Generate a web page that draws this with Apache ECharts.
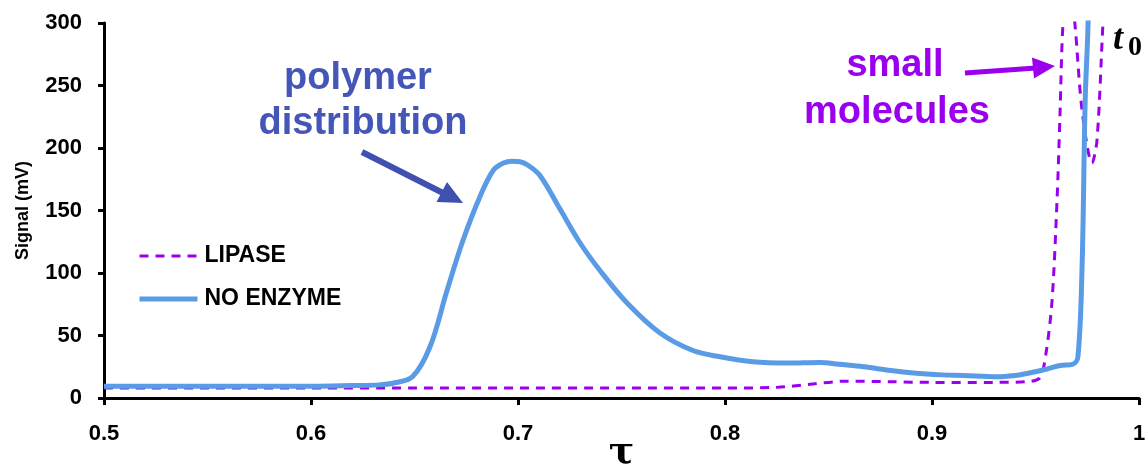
<!DOCTYPE html>
<html>
<head>
<meta charset="utf-8">
<script src="https://cdn.jsdelivr.net/npm/echarts@6/dist/echarts.min.js"></script>
<style>
html,body{margin:0;padding:0;background:#fff;}
#chart{width:1148px;height:465px;}
</style>
</head>
<body>
<div id="chart"></div>
<script>
// ---- data ----
const xTicks = [0.5, 0.6, 0.7, 0.8, 0.9, 1.0];
const yTicks = [0, 50, 100, 150, 200, 250, 300];

const noEnzymeTau = [0.50,0.52,0.55,0.58,0.60,0.62,0.633,0.640,0.649,0.6575,0.6657,0.6734,0.6816,0.688,0.693,0.697,0.701,0.705,0.7106,0.720,0.730,0.7396,0.7527,0.7686,0.7845,0.7976,0.8135,0.830,0.846,0.855,0.867,0.880,0.891,0.905,0.915,0.931,0.940,0.947,0.955,0.962,0.968,0.9705,0.9725,0.974,0.9754,0.977,0.980];
const noEnzymeSignal = [9.5,9.5,9.5,9.5,9.5,10,10.5,12,17,41,86,126,161,182,188,189.5,189,186,178,152,124,102,76,52,38,33,29,28,28.5,27,25,22,20,18.5,18,17,18,20,23,26,27,33,105,238,300,450,600];

const lipaseTau = [0.50,0.55,0.60,0.65,0.70,0.75,0.80,0.825,0.841,0.859,0.880,0.900,0.930,0.945,0.952,0.955,0.958,0.9604,0.9618,0.9633,0.966,0.969,0.9725,0.9773,0.9797,0.9826,0.986];
const lipaseSignal = [8,8,8,8,8,8,8,8.5,11,13.5,13,12.5,12.5,13,16,35,78,158,225,300,340,300,230,188,206,300,400];

const seriesNames = ['LIPASE', 'NO ENZYME'];

const toPairs = (xs, ys) => xs.map((x, i) => [x, ys[i]]);

const chart = echarts.init(document.getElementById('chart'));
const BLUE = '#5a9be6';
const PURPLE = '#9a00ee';
const FONT = "'Liberation Sans', Arial, sans-serif";

chart.setOption({
  animation: false,
  backgroundColor: '#fff',
  grid: { left: 104, right: 9, top: 23, bottom: 67, outerBoundsMode: 'none', containLabel: false },
  legend: {
    data: seriesNames,
    orient: 'vertical',
    left: 132,
    top: 239,
    itemWidth: 58,
    itemHeight: 14,
    itemGap: 19,
    itemStyle: { opacity: 0 },
    lineStyle: { width: 'inherit' },
    textStyle: { fontFamily: FONT, fontWeight: 'bold', fontSize: 23, color: '#000', lineHeight: 24, padding: [0,0,0,2] }
  },
  xAxis: {
    type: 'value',
    min: xTicks[0],
    max: xTicks[xTicks.length - 1],
    interval: 0.1,
    name: 'τ',
    nameLocation: 'middle',
    nameGap: 36,
    nameMoveOverlap: false,
    nameTextStyle: { fontFamily: "'DejaVu Serif', serif", fontWeight: 'bold', fontSize: 38, color: '#000' },
    axisLine: { lineStyle: { color: '#000', width: 3 } },
    axisTick: { inside: false, length: 7, lineStyle: { color: '#000', width: 3 } },
    axisLabel: { margin: 25, fontFamily: FONT, fontWeight: 'bold', fontSize: 22, color: '#000',
      formatter: v => String(Math.round(v * 10) / 10) },
    splitLine: { show: false }
  },
  yAxis: {
    type: 'value',
    min: yTicks[0],
    max: yTicks[yTicks.length - 1],
    interval: 50,
    name: 'Signal (mV)',
    nameLocation: 'middle',
    nameGap: 72,
    nameMoveOverlap: false,
    nameTextStyle: { fontFamily: FONT, fontWeight: 'bold', fontSize: 18, color: '#000' },
    axisLine: { show: true, lineStyle: { color: '#000', width: 3 } },
    axisTick: { show: true, inside: false, length: 6, lineStyle: { color: '#000', width: 3 } },
    axisLabel: { margin: 22, fontFamily: FONT, fontWeight: 'bold', fontSize: 22, color: '#000' },
    splitLine: { show: false }
  },
  series: [
    {
      name: seriesNames[0],
      type: 'line',
      data: toPairs(lipaseTau, lipaseSignal),
      symbol: 'none',
      smooth: 0.3,
      clip: true,
      lineStyle: { color: PURPLE, width: 3, type: [9, 7] },
      itemStyle: { color: PURPLE },
      z: 2
    },
    {
      name: seriesNames[1],
      type: 'line',
      data: toPairs(noEnzymeTau, noEnzymeSignal),
      symbol: 'none',
      smooth: 0.35,
      clip: true,
      lineStyle: { color: BLUE, width: 5 },
      itemStyle: { color: BLUE },
      z: 3
    }
  ],
  graphic: [
    { type: 'text', style: { text: 'polymer', x: 358, y: 79, textAlign: 'center', textVerticalAlign: 'middle',
        font: "bold 38px 'Liberation Sans', Arial, sans-serif", fill: '#4457b8' } },
    { type: 'text', style: { text: 'distribution', x: 363, y: 124, textAlign: 'center', textVerticalAlign: 'middle',
        font: "bold 38px 'Liberation Sans', Arial, sans-serif", fill: '#4457b8' } },
    { type: 'line', shape: { x1: 362, y1: 152, x2: 443, y2: 193 }, style: { stroke: '#4050b0', lineWidth: 6 } },
    { type: 'polygon', shape: { points: [[463, 203], [436.5, 202], [447, 182]] }, style: { fill: '#4050b0' } },

    { type: 'text', style: { text: 'small', x: 895, y: 66, textAlign: 'center', textVerticalAlign: 'middle',
        font: "bold 38px 'Liberation Sans', Arial, sans-serif", fill: '#9a00ee' } },
    { type: 'text', style: { text: 'molecules', x: 897, y: 113, textAlign: 'center', textVerticalAlign: 'middle',
        font: "bold 38px 'Liberation Sans', Arial, sans-serif", fill: '#9a00ee' } },
    { type: 'line', shape: { x1: 965, y1: 73, x2: 1036, y2: 68 }, style: { stroke: '#9a00ee', lineWidth: 5 } },
    { type: 'polygon', shape: { points: [[1055, 66], [1032, 57.5], [1034, 78.5]] }, style: { fill: '#9a00ee' } },

    { type: 'text', style: { text: 't', x: 1113, y: 40, textAlign: 'left', textVerticalAlign: 'middle',
        font: "italic bold 36px 'Liberation Serif', serif", fill: '#000' } },
    { type: 'text', style: { text: '0', x: 1128, y: 48, textAlign: 'left', textVerticalAlign: 'middle',
        font: "bold 28px 'Liberation Serif', serif", fill: '#000' } }
  ]
});
</script>
</body>
</html>
